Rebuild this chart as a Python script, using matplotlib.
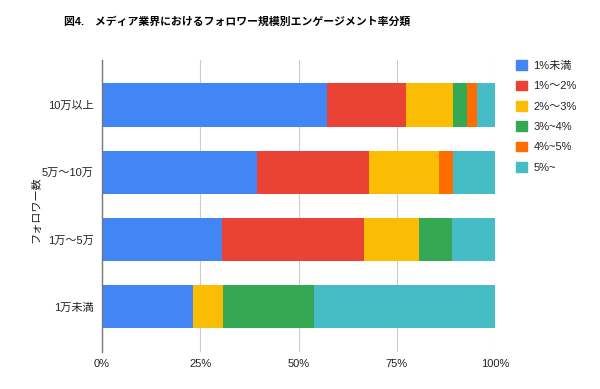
import matplotlib.pyplot as plt
from matplotlib.patches import Patch

plt.rcParams['font.family'] = ['Liberation Sans', 'Noto Sans CJK JP', 'DejaVu Sans']

TITLE = "図4.　メディア業界におけるフォロワー規模別エンゲージメント率分類"
categories = ["10万以上", "5万～10万", "1万～5万", "1万未満"]
series_names = ["1%未満", "1%～2%", "2%～3%", "3%~4%", "4%~5%", "5%~"]
colors = ["#4285F4", "#EA4335", "#FBBC04", "#34A853", "#FF6D01", "#46BDC6"]

# share (%) per follower bucket, one list per engagement band
under1 = [57.2, 39.4, 30.5, 23.2]
one_two = [20.2, 28.5, 36.2, 0.0]
two_three = [12.0, 17.9, 14.0, 7.6]
three_four = [3.6, 0.0, 8.3, 23.1]
four_five = [2.3, 3.6, 0.0, 0.0]
over5 = [4.7, 10.6, 11.0, 46.1]
series = [under1, one_two, two_three, three_four, four_five, over5]

xticks = [0, 25, 50, 75, 100]
xtick_labels = ["0%", "25%", "50%", "75%", "100%"]


def main():
    fig = plt.figure(figsize=(6.0, 3.89), dpi=100)
    ax = fig.add_axes([0.17, 0.095, 0.655, 0.751])

    y = list(range(len(categories)))
    left = [0.0] * len(categories)
    for vals, col in zip(series, colors):
        ax.barh(y, vals, left=left, height=0.64, color=col, zorder=2)
        left = [a + b for a, b in zip(left, vals)]

    ax.set_xlim(0, 100)
    ax.set_ylim(len(categories) - 1 + 0.67, -0.67)
    ax.set_yticks(y)
    ax.set_yticklabels(categories, fontsize=8, color="#222222")
    ax.set_xticks(xticks)
    ax.set_xticklabels(xtick_labels, fontsize=8, color="#222222")
    ax.tick_params(axis="y", length=0, pad=6)
    ax.tick_params(axis="x", length=0, pad=5)

    ax.grid(axis="x", color="#cccccc", linewidth=0.8, zorder=0)
    for s in ["top", "right", "bottom"]:
        ax.spines[s].set_visible(False)
    ax.spines["left"].set_color("#777777")
    ax.spines["left"].set_linewidth(1.0)
    ax.spines["left"].set_zorder(3)

    fig.text(0.06, 0.46, "フォロワー数", rotation=90, fontsize=8,
             color="#222222", ha="center", va="center")
    fig.text(0.395, 0.945, TITLE, fontsize=7.8, fontweight="bold",
             color="#000000", ha="center", va="center")

    handles = [Patch(facecolor=c, edgecolor=c) for c in colors]
    fig.legend(handles, series_names, loc="upper left",
               bbox_to_anchor=(0.843, 0.871), frameon=False, fontsize=8,
               handlelength=1.0, handleheight=1.0, handletextpad=0.6,
               labelspacing=0.86, labelcolor="#222222")

    fig.savefig("out.png", dpi=100)


if __name__ == "__main__":
    main()
